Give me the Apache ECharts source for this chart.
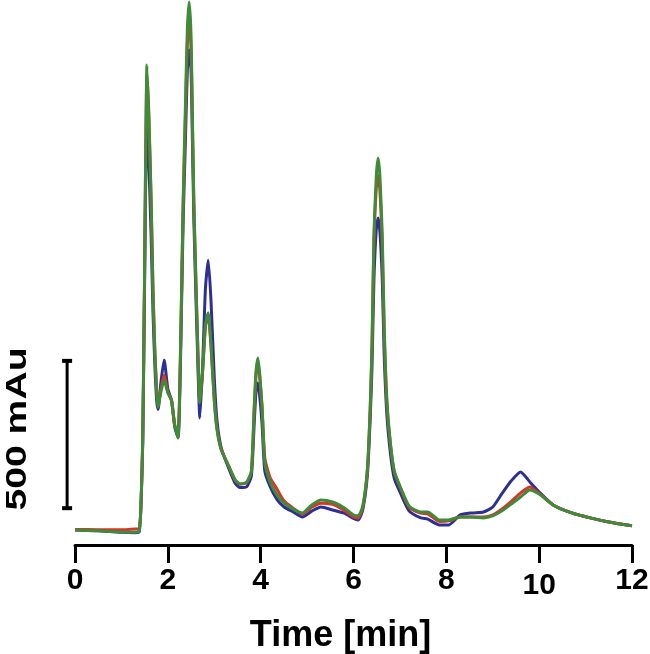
<!DOCTYPE html>
<html>
<head>
<meta charset="utf-8">
<script src="https://cdn.jsdelivr.net/npm/echarts@6/dist/echarts.min.js"></script>
<style>
html, body { margin: 0; padding: 0; background: #fff; }
#chart { width: 650px; height: 654px; }
</style>
</head>
<body>
<div id="chart"></div>
<script>
// retention time (min)
var time = [0, 0.5, 1.0, 1.3, 1.38, 1.42, 1.46, 1.50, 1.52, 1.55,
    1.59, 1.64, 1.68, 1.72, 1.76, 1.79, 1.85, 1.92, 2.00, 2.08,
    2.15, 2.22, 2.26, 2.30, 2.33, 2.38, 2.42, 2.46, 2.50, 2.53,
    2.56, 2.60, 2.64, 2.69, 2.75, 2.81, 2.87, 2.93, 3.00, 3.06,
    3.15, 3.30, 3.45, 3.56, 3.70, 3.80, 3.86, 3.90, 3.94, 3.98,
    4.03, 4.09, 4.20, 4.35, 4.50, 4.70, 4.90, 5.10, 5.30, 5.55,
    5.80, 6.00, 6.10, 6.20, 6.30, 6.36, 6.40, 6.44, 6.49, 6.53,
    6.57, 6.62, 6.66, 6.72, 6.80, 6.88, 7.00, 7.20, 7.45, 7.60,
    7.85, 8.05, 8.30, 8.55, 8.80, 9.00, 9.20, 9.40, 9.60, 9.80,
    10.00, 10.30, 10.70, 11.10, 11.50, 12.00];

// absorbance (mAu) per run
var blue = [1, -2, -7, -8, -6, 75, 300, 850, 1150, 1368,
    1250, 1000, 740, 560, 440, 410, 500, 578, 480, 440,
    350, 315, 480, 800, 1050, 1330, 1560, 1630, 1560, 1320,
    1060, 820, 600, 381, 560, 820, 917, 780, 520, 370,
    280, 215, 160, 145, 148, 185, 360, 470, 500, 455,
    360, 200, 150, 105, 80, 62, 45, 65, 79, 69,
    58, 40, 35, 70, 190, 380, 560, 850, 1020, 1060,
    1010, 850, 600, 390, 255, 175, 130, 65, 42, 38,
    18, 18, 52, 59, 62, 79, 125, 168, 198, 164,
    130, 86, 59, 42, 28, 15];

var red = [3, 2, 2, 4, 4, 80, 310, 880, 1220, 1545,
    1420, 1121, 820, 611, 475, 420, 480, 527, 470, 440,
    355, 335, 505, 840, 1100, 1410, 1650, 1715, 1640, 1380,
    1110, 870, 650, 435, 540, 690, 730, 625, 445, 345,
    275, 222, 170, 157, 162, 200, 405, 525, 570, 520,
    420, 245, 180, 140, 100, 75, 55, 78, 92, 88,
    68, 45, 42, 78, 205, 410, 630, 980, 1160, 1205,
    1150, 960, 680, 430, 285, 198, 148, 78, 58, 56,
    30, 32, 45, 45, 45, 52, 72, 98, 127, 147,
    125, 86, 59, 42, 28, 15];

var green = [1, -2, -6, -7, -5, 80, 320, 900, 1250, 1579,
    1400, 1121, 820, 611, 470, 418, 469, 510, 466, 442,
    357, 313, 500, 850, 1121, 1450, 1700, 1793, 1680, 1400,
    1121, 880, 650, 432, 544, 697, 738, 629, 442, 341,
    273, 222, 171, 157, 164, 200, 418, 540, 585, 530,
    418, 230, 165, 120, 93, 72, 59, 86, 103, 96,
    76, 52, 49, 82, 210, 420, 645, 1000, 1200, 1263,
    1200, 1000, 700, 440, 290, 200, 150, 82, 62, 62,
    35, 35, 45, 45, 42, 49, 66, 89, 113, 137,
    123, 86, 59, 42, 28, 15];

var xTicks = [0, 2, 4, 6, 8, 10, 12];
// scale bar: [time, bottom mAu, top mAu] -> 500 mAu
var scaleBar = [[-0.17, 75, 575]];

var font = '"Liberation Sans", Arial, Helvetica, sans-serif';

function pairs(ys) {
    return time.map(function (t, i) { return [t, ys[i]]; });
}

function trace(name, color, ys) {
    return {
        name: name,
        type: 'line',
        data: pairs(ys),
        showSymbol: false,
        smooth: 0.2,
        lineStyle: { color: color, width: 3 },
        itemStyle: { color: color }
    };
}

var chart = echarts.init(document.getElementById('chart'));

var option = {
    animation: false,
    grid: { left: 75, right: 18, top: 0, bottom: 109, outerBoundsMode: 'none' },
    xAxis: {
        type: 'value',
        min: xTicks[0],
        max: xTicks[xTicks.length - 1],
        interval: xTicks[1] - xTicks[0],
        axisLine: { onZero: false, lineStyle: { color: '#000', width: 3 } },
        axisTick: { length: 18, lineStyle: { color: '#000', width: 3 } },
        splitLine: { show: false },
        axisLabel: {
            margin: 21,
            showMinLabel: true,
            showMaxLabel: true,
            formatter: function (v) {
                return v === 10 ? '{low|10}' : '{n|' + v + '}';
            },
            rich: {
                n: { fontSize: 30, fontWeight: 'bold', color: '#000', fontFamily: font },
                low: { fontSize: 30, fontWeight: 'bold', color: '#000', fontFamily: font, padding: [5, 0, 0, 0] }
            }
        },
        name: 'Time [min]',
        nameLocation: 'middle',
        nameGap: 73,
        nameTextStyle: {
            fontSize: 36, fontWeight: 'bold', color: '#000', fontFamily: font,
            padding: [0, 26, 0, 0]
        }
    },
    yAxis: { type: 'value', min: -50, max: 1800, show: false },
    graphic: [{
        type: 'text',
        x: 18,
        y: 429,
        rotation: Math.PI / 2,
        scaleX: 1.35,
        style: {
            text: '500 mAu',
            fontSize: 29, fontWeight: 'bold', fontFamily: font,
            fill: '#000', align: 'center', verticalAlign: 'middle'
        }
    }],
    series: [
        trace('blue', '#2d3092', blue),
        trace('red', '#d8352a', red),
        trace('green', '#3f8c38', green),
        {
            type: 'custom',
            clip: false,
            silent: true,
            data: scaleBar,
            encode: { x: 0, y: [1, 2] },
            renderItem: function (params, api) {
                var bot = api.coord([api.value(0), api.value(1)]);
                var top = api.coord([api.value(0), api.value(2)]);
                var s = { stroke: '#000', lineWidth: 3 };
                var c = { stroke: '#000', lineWidth: 4 };
                return {
                    type: 'group',
                    children: [
                        { type: 'line', shape: { x1: bot[0], y1: bot[1], x2: top[0], y2: top[1] }, style: s },
                        { type: 'line', shape: { x1: bot[0] - 5, y1: bot[1], x2: bot[0] + 5, y2: bot[1] }, style: c },
                        { type: 'line', shape: { x1: top[0] - 5, y1: top[1], x2: top[0] + 5, y2: top[1] }, style: c }
                    ]
                };
            }
        }
    ]
};

chart.setOption(option);
</script>
</body>
</html>
